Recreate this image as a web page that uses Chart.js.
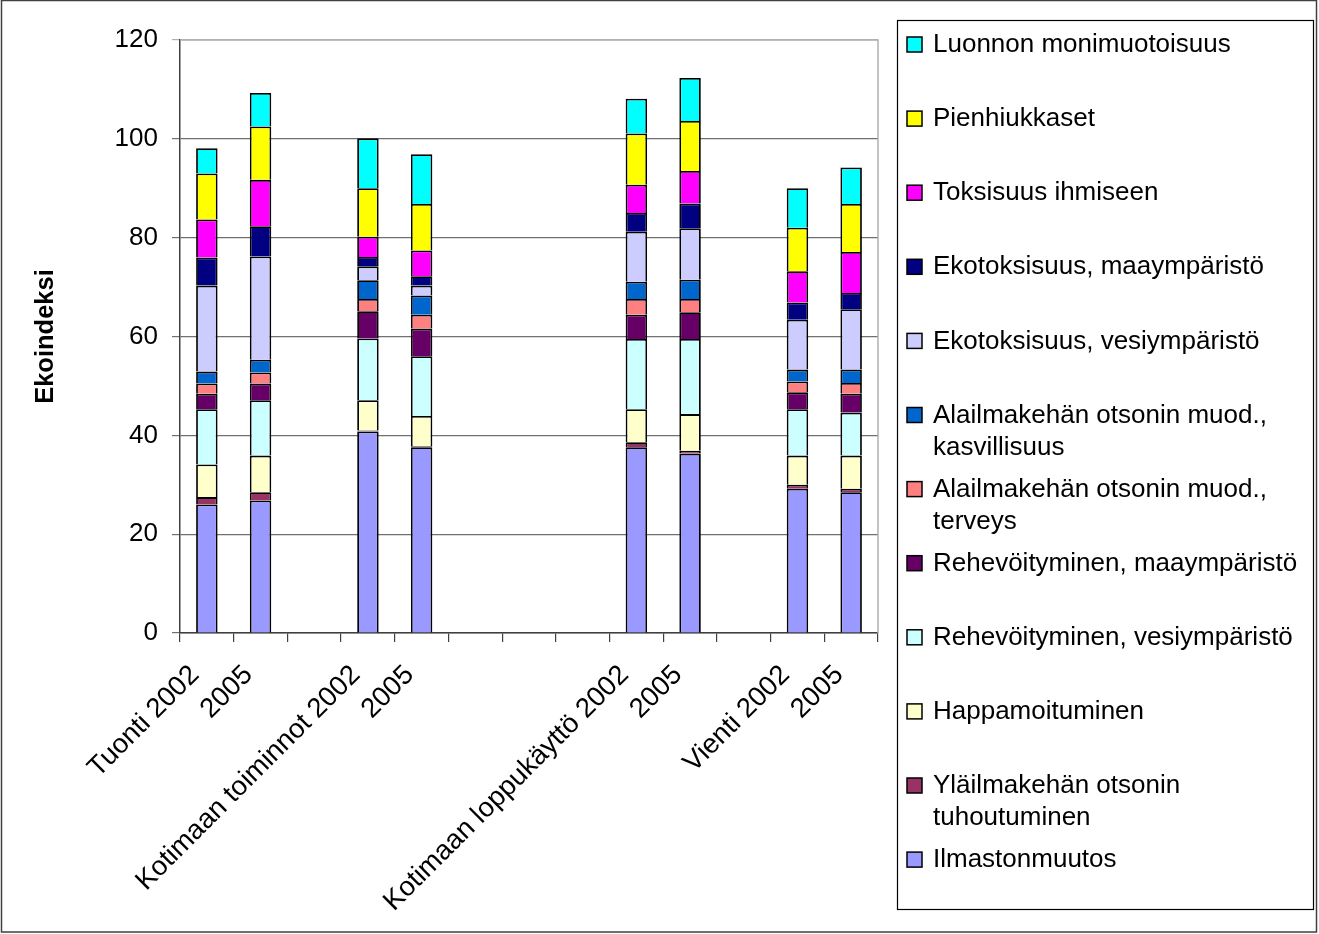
<!DOCTYPE html>
<html>
<head>
<meta charset="utf-8">
<script src="https://cdn.jsdelivr.net/npm/chart.js@4/dist/chart.umd.min.js"></script>
<style>
  html, body { margin: 0; padding: 0; background: #fff; }
</style>
</head>
<body>
<canvas id="ekoChart" width="1319" height="934"></canvas>
<script>
// categories (empty slots are the gaps between groups)
const categories = [
  'Tuonti 2002', '2005', '',
  'Kotimaan toiminnot 2002', '2005', '', '', '',
  'Kotimaan loppukäyttö 2002', '2005', '',
  'Vienti 2002', '2005'
];

// series, bottom to top of the stack
const ilmastonmuutos = [26.0, 26.8, null, 40.8, 37.6, null, null, null, 37.6, 36.3, null, 29.2, 28.5];
const ylailmakehaOtsoni = [1.5, 1.7, null, 0.2, 0.2, null, null, null, 1.0, 0.6, null, 0.8, 0.7];
const happamoituminen = [6.6, 7.4, null, 6.1, 6.1, null, null, null, 6.7, 7.4, null, 5.9, 6.7];
const rehevVesi = [11.2, 11.2, null, 12.5, 12.1, null, null, null, 14.2, 15.2, null, 9.4, 8.7];
const rehevMaa = [3.1, 3.4, null, 5.5, 5.6, null, null, null, 4.9, 5.4, null, 3.4, 3.8];
const otsoniTerveys = [2.1, 2.2, null, 2.5, 2.8, null, null, null, 3.2, 2.7, null, 2.2, 2.2];
const otsoniKasvillisuus = [2.4, 2.6, null, 3.8, 3.9, null, null, null, 3.5, 3.9, null, 2.4, 2.7];
const ekotoksVesi = [17.4, 20.9, null, 2.8, 2.0, null, null, null, 10.1, 10.4, null, 10.1, 12.2];
const ekotoksMaa = [5.7, 6.1, null, 1.9, 1.9, null, null, null, 3.8, 5.0, null, 3.5, 3.3];
const toksisuus = [7.7, 9.4, null, 4.1, 5.2, null, null, null, 5.7, 6.6, null, 6.3, 8.3];
const pienhiukkaset = [9.3, 10.8, null, 9.8, 9.4, null, null, null, 10.4, 10.1, null, 8.8, 9.7];
const monimuotoisuus = [5.1, 6.8, null, 10.1, 10.1, null, null, null, 7.0, 8.7, null, 8.0, 7.4];

const seriesNames = [
  'Ilmastonmuutos',
  'Yläilmakehän otsonin tuhoutuminen',
  'Happamoituminen',
  'Rehevöityminen, vesiympäristö',
  'Rehevöityminen, maaympäristö',
  'Alailmakehän otsonin muod., terveys',
  'Alailmakehän otsonin muod., kasvillisuus',
  'Ekotoksisuus, vesiympäristö',
  'Ekotoksisuus, maaympäristö',
  'Toksisuus ihmiseen',
  'Pienhiukkaset',
  'Luonnon monimuotoisuus'
];
const seriesValues = [
  ilmastonmuutos, ylailmakehaOtsoni, happamoituminen, rehevVesi, rehevMaa,
  otsoniTerveys, otsoniKasvillisuus, ekotoksVesi, ekotoksMaa, toksisuus,
  pienhiukkaset, monimuotoisuus
];
const seriesColors = [
  '#9999FF', '#993366', '#FFFFCC', '#CCFFFF', '#660066', '#FF8080',
  '#0066CC', '#CCCCFF', '#000080', '#FF00FF', '#FFFF00', '#00FFFF'
];

const yTicks = [0, 20, 40, 60, 80, 100, 120];

const FONT = "'Liberation Sans', Arial, sans-serif";

// light grey plot border (top/right) + outer frame + legend box
const excelFrame = {
  id: 'excelFrame',
  beforeDatasetsDraw(chart) {
    const { ctx, chartArea: a } = chart;
    ctx.save();
    ctx.strokeStyle = '#b0b0b0';
    ctx.lineWidth = 1.5;
    ctx.beginPath();
    ctx.moveTo(a.left, a.top);
    ctx.lineTo(a.right, a.top);
    ctx.lineTo(a.right, a.bottom);
    ctx.stroke();
    ctx.restore();
  },
  afterDraw(chart) {
    const ctx = chart.ctx;
    ctx.save();
    // outer border
    ctx.strokeStyle = '#404040';
    ctx.lineWidth = 1.5;
    ctx.strokeRect(1.5, 0.5, 1315, 931.5);

    // legend box
    ctx.strokeStyle = '#000';
    ctx.lineWidth = 1.2;
    ctx.strokeRect(897.5, 20.5, 416, 889);

    ctx.font = '26px ' + FONT;
    ctx.textBaseline = 'middle';
    ctx.textAlign = 'left';
    const n = chart.data.datasets.length;
    for (let k = 0; k < n; k++) {
      const ds = chart.data.datasets[n - 1 - k];
      const yc = 44 + k * 74.1;
      ctx.fillStyle = ds.backgroundColor;
      ctx.fillRect(907, yc - 7, 15, 15);
      ctx.strokeStyle = '#000';
      ctx.lineWidth = 1.5;
      ctx.strokeRect(907, yc - 7, 15, 15);

      // word wrap
      const words = ds.label.split(' ');
      const lines = [];
      let line = '';
      words.forEach((w) => {
        const test = line ? line + ' ' + w : w;
        if (ctx.measureText(test).width > 372 && line) {
          lines.push(line);
          line = w;
        } else {
          line = test;
        }
      });
      lines.push(line);
      ctx.fillStyle = '#000';
      lines.forEach((l, i) => ctx.fillText(l, 933, yc + 1 + i * 32));
    }
    ctx.restore();
  }
};

const datasets = seriesValues.map((values, i) => ({
  label: seriesNames[i],
  data: values,
  backgroundColor: seriesColors[i],
  borderColor: '#000',
  borderWidth: 1.8,
  barPercentage: 0.4,
  categoryPercentage: 1.0
}));

const ctx = document.getElementById('ekoChart').getContext('2d');
new Chart(ctx, {
  type: 'bar',
  data: { labels: categories, datasets },
  plugins: [excelFrame],
  options: {
    responsive: false,
    devicePixelRatio: 1,
    animation: false,
    layout: { padding: { left: 8, right: 441, top: 40, bottom: 0 } },
    plugins: {
      legend: { display: false },
      tooltip: { enabled: false }
    },
    scales: {
      x: {
        stacked: true,
        grid: {
          offset: true,
          drawOnChartArea: false,
          tickLength: 9,
          color: '#404040',
          lineWidth: 1.2
        },
        border: { color: '#404040', width: 1.5 },
        ticks: {
          autoSkip: false,
          minRotation: 45,
          maxRotation: 45,
          color: '#000',
          padding: 17,
          labelOffset: -12,
          font: { family: FONT, size: 27.5 }
        },
        afterFit(scale) {
          scale.height = 301;
        }
      },
      y: {
        stacked: true,
        min: 0,
        max: 120,
        afterBuildTicks(scale) {
          scale.ticks = yTicks.map((v) => ({ value: v }));
        },
        grid: {
          color: (c) => (c.tick && c.tick.value === 120 ? '#b0b0b0' : '#707070'),
          lineWidth: 1.2,
          tickLength: 8
        },
        border: { color: '#404040', width: 1.5 },
        ticks: {
          color: '#000',
          padding: 14,
          font: { family: FONT, size: 26 }
        },
        title: {
          display: true,
          text: 'Ekoindeksi',
          color: '#000',
          font: { family: FONT, size: 25.5, weight: 'bold' },
          padding: { top: 23, bottom: 0 }
        },
        afterFit(scale) {
          scale.width = 172;
        }
      }
    }
  }
});
</script>
</body>
</html>
